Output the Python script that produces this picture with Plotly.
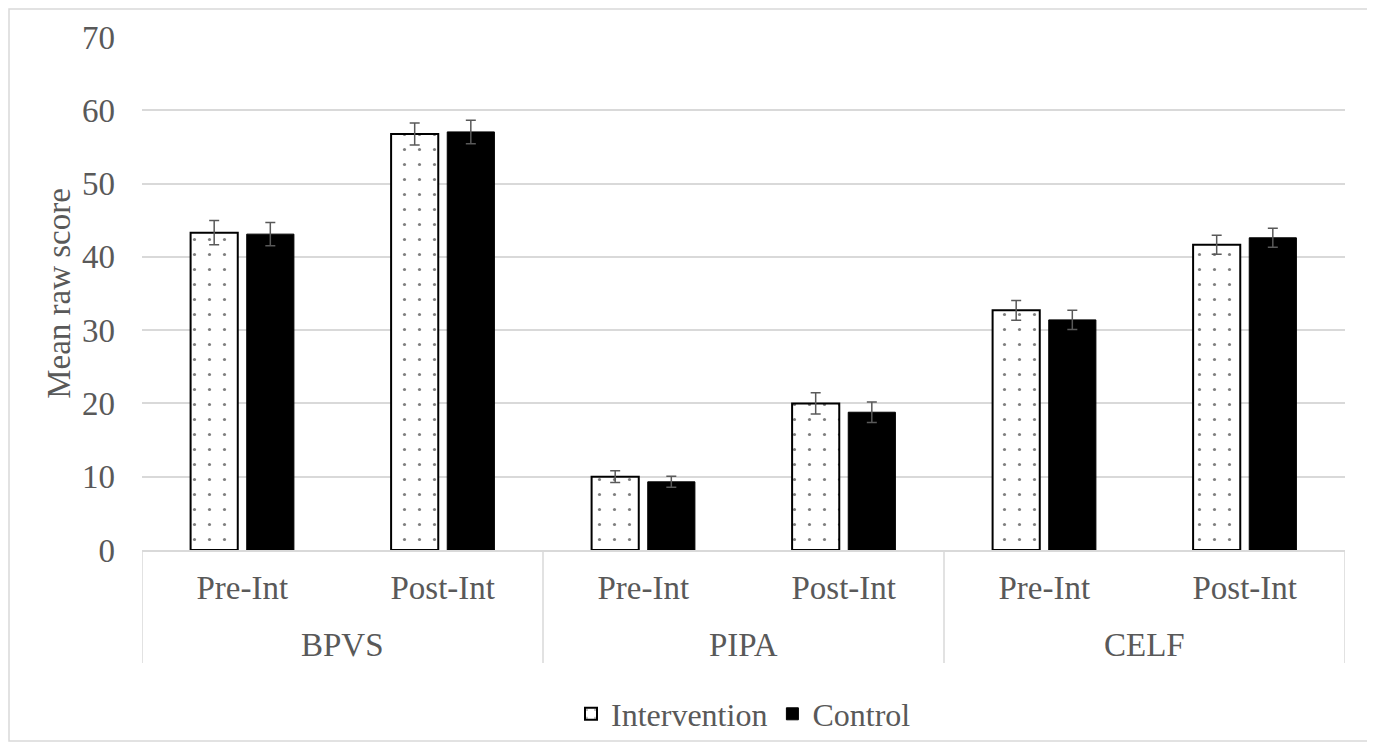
import plotly.graph_objects as go

groups = ["BPVS", "BPVS", "PIPA", "PIPA", "CELF", "CELF"]
phases = ["Pre-Int", "Post-Int", "Pre-Int", "Post-Int", "Pre-Int", "Post-Int"]

intervention = [43.3, 56.75, 10.0, 20.0, 32.7, 41.65]
intervention_err = [1.65, 1.5, 0.8, 1.45, 1.35, 1.3]
control = [43.1, 57.05, 9.3, 18.8, 31.4, 42.6]
control_err = [1.6, 1.6, 0.75, 1.4, 1.3, 1.3]

y_ticks = [0, 10, 20, 30, 40, 50, 60, 70]

FONT = "Liberation Serif"
TXT = "#595959"
GRID = "#d9d9d9"

cats = [f"{g} {p}" for g, p in zip(groups, phases)]

fig = go.Figure()
fig.add_trace(go.Bar(
    name="Intervention", x=cats, y=intervention,
    marker=dict(color="white", line=dict(color="black", width=2),
                pattern=dict(shape=".", fgcolor="black", bgcolor="white", size=15, solidity=0.035)),
    error_y=dict(type="data", array=intervention_err, color=TXT, thickness=1.5, width=5),
))
fig.add_trace(go.Bar(
    name="Control", x=cats, y=control,
    marker=dict(color="black", line=dict(color="black", width=1)),
    error_y=dict(type="data", array=control_err, color=TXT, thickness=1.5, width=5),
))

# page body adds an 8px offset; margins below compensate
ML, MT, MR, MB = 134, 29, 38, 200
plot_h = 742 - MT - MB
plot_w = 1375 - ML - MR
annotations = []
shapes = []
unique_groups = []
for g in groups:
    if g not in unique_groups:
        unique_groups.append(g)
boundaries = []
for g in unique_groups:
    idx = [i for i, gg in enumerate(groups) if gg == g]
    annotations.append(dict(text=g, xref="x", yref="paper", x=sum(idx) / len(idx), y=-95 / plot_h,
                            xanchor="center", yanchor="middle", showarrow=False,
                            font=dict(family=FONT, size=33, color=TXT)))
    boundaries.append(idx[0] - 0.5)
boundaries.append(len(groups) - 0.5)
for b in boundaries:
    shapes.append(dict(type="line", xref="x", yref="paper", x0=b, x1=b, y0=0, y1=-113 / plot_h,
                       line=dict(color=GRID, width=1.5)))
shapes.append(dict(type="rect", xref="paper", yref="paper",
                   x0=-(ML - 1) / plot_w, x1=1 + (MR - 3) / plot_w,
                   y0=-(MB - 9) / plot_h, y1=1 + (MT - 1) / plot_h,
                   line=dict(color=GRID, width=1.5)))

fig.update_layout(
    width=1375, height=742,
    margin=dict(l=ML, r=MR, t=MT, b=MB, autoexpand=False),
    paper_bgcolor="white", plot_bgcolor="white",
    font=dict(family=FONT, size=33, color=TXT),
    barmode="group", bargap=0.44, bargroupgap=0.16,
    showlegend=True,
    legend=dict(orientation="h", x=0.5, xanchor="center", y=-164 / plot_h, yanchor="middle",
                bgcolor="rgba(0,0,0,0)", font=dict(family=FONT, size=32, color=TXT),
                itemwidth=30, tracegroupgap=0),
    annotations=annotations,
    shapes=shapes,
)
fig.update_yaxes(range=[0, 70], tickvals=y_ticks, showgrid=True, gridcolor=GRID, gridwidth=1.5,
                 zeroline=False, showline=False, ticks="", ticklabelstandoff=26,
                 title=dict(text="Mean raw score", font=dict(family=FONT, size=33, color=TXT), standoff=1))
fig.update_xaxes(type="category", tickvals=cats, ticktext=phases, showline=True, linecolor=GRID,
                 linewidth=1.5, ticks="", ticklabelstandoff=8, range=[-0.5, len(cats) - 0.5])

fig.write_html("out.html")
